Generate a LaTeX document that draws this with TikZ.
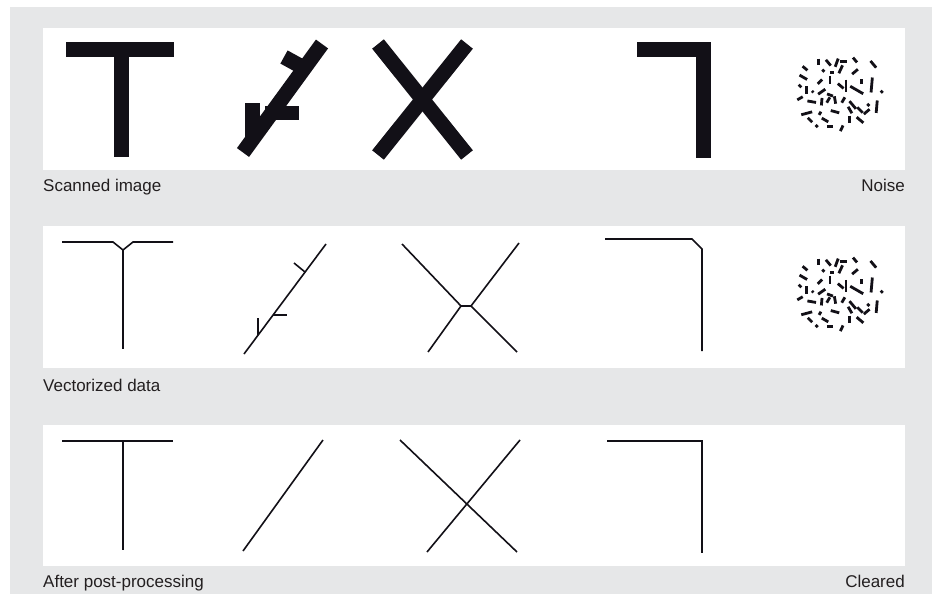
\documentclass[tikz,border=0pt]{standalone}
\usepackage{fontspec}
\setmainfont{Liberation Sans}
\usetikzlibrary{positioning}

\definecolor{ink}{HTML}{121017}
\definecolor{bggray}{HTML}{E6E7E8}
\definecolor{txtgray}{HTML}{231F20}

\tikzset{
  scanline/.style={line width=15pt, ink, line cap=butt, line join=miter},
  vecline/.style={line width=1.6pt, ink},
  panel/.style={fill=white, draw=none},
  caption/.style={font=\fontsize{17}{20}\selectfont, text=txtgray, inner sep=0pt},
  noisedash/.style={line width=2.8pt, ink},
  noiseblob/.pic={
    \foreach \x/\y/\a/\l in {
      -21.7/-33.3/90/2.5, -11.7/-32.3/50/3, -3.3/-32.3/-70/3.5, 3.3/-33.3/0/3,
      15/-35/50/2.5, 33.3/-30.7/50/3.5, -35/-26.7/40/2.5, -16.7/-24.3/45/1.2,
      -8.3/-22.3/0/1.5, 0.7/-25.7/-65/3.5, 15/-23.3/-40/3, -36.7/-17.7/30/3.5,
      -20/-13.3/-45/2.5, -10/-15/90/3.5, 0.7/-9/40/3, 6/-9/90/5,
      16.7/-5/30/6, 21.7/-13.3/90/2, 31.7/-10/95/6, 41.7/-3.3/45/1.2,
      -40/-9/45/1.5, -33.3/-5/90/3, -27.3/-3.3/45/0.8, -18.3/-3.3/-35/3.5,
      -10/0/20/2.5, -40/3.3/-30/2.5, -28.3/6.7/10/3.5, -18.3/6.7/95/3,
      -11.7/5/-60/2.5, -5/5/80/3, 3.3/5/-60/2.5, 12.7/10/50/4,
      20/15/45/3, 28.3/10/45/1.2, 36.7/11.7/95/5, -33.3/18.3/-15/4.5,
      -20/18.3/-60/1.5, -5/16.7/15/3.5, 10/15/60/3, 26.7/16.7/-40/3,
      -30/25/45/2.5, -23.3/31/45/1.2, -15/25/30/3, -10/31.7/0/2.5,
      1.7/33.3/-65/2.5, 9.3/24.3/90/3, 20/25/40/3.5}
      \draw[noisedash] ([shift={({\a+180}:1.25*\l)}]\x,\y) -- ([shift={(\a:1.25*\l)}]\x,\y);
  }
}

\begin{document}
\begin{tikzpicture}[x=1pt, y=-1pt]
  \useasboundingbox (0,0) rectangle (932,594);
  \fill[bggray] (10,7) rectangle (932,594);

  % panels
  \fill[white] (43,28) rectangle (905,170);
  \fill[white] (43,226) rectangle (905,368);
  \fill[white] (43,425) rectangle (905,566);

  % scanned image
  \draw[scanline] (66,49.5) -- (174,49.5);
  \draw[scanline] (121.5,49.5) -- (121.5,157);
  \draw[scanline] (243,152.5) -- (322,44);
  \draw[scanline] (284,57) -- (304,68);
  \draw[scanline, line width=14pt] (265,113) -- (299,113);
  \draw[scanline] (252,103) -- (252,138);
  \draw[scanline] (378,44) -- (467,155);
  \draw[scanline] (467,44) -- (378,155);
  \draw[scanline] (637,49.5) -- (703.5,49.5) -- (703.5,158);
  \pic at (840,95) {noiseblob};

  % vectorized data
  \draw[vecline] (62,242) -- (113,242) -- (123,250) -- (133,242) -- (173,242);
  \draw[vecline] (123,250) -- (123,349);
  \draw[vecline] (244,354) -- (326,244);
  \draw[vecline] (294,263) -- (305,272);
  \draw[vecline] (273,315) -- (287,315);
  \draw[vecline] (258,318) -- (258,335);
  \draw[vecline] (402,244) -- (461,306) -- (471,306) -- (519,243);
  \draw[vecline] (428,352) -- (461,306);
  \draw[vecline] (471,306) -- (517,352);
  \draw[vecline] (605,239) -- (692,239) -- (702,249) -- (702,351);
  \pic at (840,295) {noiseblob};

  % after post-processing
  \draw[vecline] (62,441) -- (173,441);
  \draw[vecline] (123,441) -- (123,550);
  \draw[vecline] (243,551) -- (323,440);
  \draw[vecline] (400,440) -- (517,552);
  \draw[vecline] (520,440) -- (427,552);
  \draw[vecline] (607,441) -- (702,441) -- (702,553);

  % captions
  \node[caption, anchor=base west] (scanned) at (43,191) {Scanned image};
  \node[caption, anchor=base east] (noise) at (905,191) {Noise};
  \node[caption, anchor=base west] (vectorized) at (43,391) {Vectorized data};
  \node[caption, anchor=base west] (after) at (43,587) {After post-processing};
  \node[caption, anchor=base east] (cleared) at (905,587) {Cleared};
\end{tikzpicture}
\end{document}
